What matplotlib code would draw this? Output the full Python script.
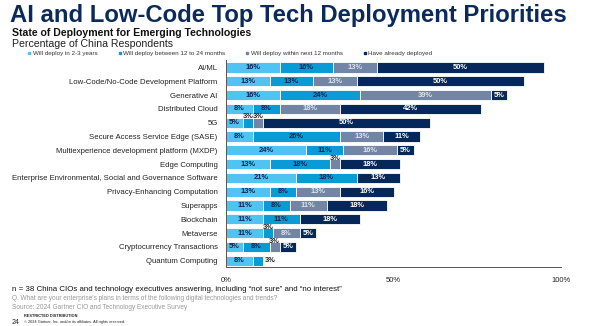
#!/usr/bin/env python

'''
stacked bar chart: state of deployment for emerging technologies (China)
'''

import numpy
import matplotlib
matplotlib.use('Agg')
import matplotlib.pyplot as plt
from matplotlib.lines import Line2D

plt.rcParams['font.family'] = ['Liberation Sans', 'DejaVu Sans']

TECHNOLOGIES = [
    'AI/ML',
    'Low-Code/No-Code Development Platform',
    'Generative AI',
    'Distributed Cloud',
    '5G',
    'Secure Access Service Edge (SASE)',
    'Multiexperience development platform (MXDP)',
    'Edge Computing',
    'Enterprise Environmental, Social and Governance Software',
    'Privacy-Enhancing Computation',
    'Superapps',
    'Blockchain',
    'Metaverse',
    'Cryptocurrency Transactions',
    'Quantum Computing',
]
SERIES = [
    'Will deploy in 2-3 years',
    'Will deploy between 12 to 24 months',
    'Will deploy within next 12 months',
    'Have already deployed',
]
IN_2_3_YEARS = [16, 13, 16, 8, 5, 8, 24, 13, 21, 13, 11, 11, 11, 5, 8]
IN_12_24_MONTHS = [16, 13, 24, 8, 3, 26, 11, 18, 18, 8, 8, 11, 3, 8, 3]
IN_NEXT_12_MONTHS = [13, 13, 39, 18, 3, 13, 16, 3, 0, 13, 11, 0, 8, 3, 0]
ALREADY_DEPLOYED = [50, 50, 5, 42, 50, 11, 5, 18, 13, 16, 18, 18, 5, 5, 0]
X_TICKS = [0, 50, 100]

COLORS = ['#4fc3f1', '#0a9ad6', '#7385a4', '#06275a']
TEXT_COLORS = ['#0b2350', '#0b2350', '#dde3ec', 'white']
NAVY = '#0b2a5b'

fig = plt.figure(figsize=(6, 3.26), dpi=100)
ax = fig.add_axes([0.3767, 0.181, 0.5583, 0.635])

values = numpy.array([IN_2_3_YEARS, IN_12_24_MONTHS,
                      IN_NEXT_12_MONTHS, ALREADY_DEPLOYED], dtype=float)
ypos = numpy.arange(len(TECHNOLOGIES))
left = numpy.zeros(len(TECHNOLOGIES))

for k, row in enumerate(values):
    ax.barh(ypos, row, left=left, height=0.74, color=COLORS[k],
            edgecolor='white', linewidth=0.6)
    for i, v in enumerate(row):
        if v <= 0:
            continue
        label = '%d%%' % v
        if v >= 5:
            ax.text(left[i] + v / 2, i, label, ha='center', va='center',
                    fontsize=5.4, fontweight='bold', color=TEXT_COLORS[k])
        elif i == len(TECHNOLOGIES) - 1:
            # last segment of the bar, put the label to the right
            ax.text(left[i] + v + 0.6, i, label, ha='left', va='center',
                    fontsize=5.4, fontweight='bold', color='#222222')
        else:
            ax.text(left[i] + v / 2, i - 0.42, label, ha='center',
                    va='center', fontsize=5.4, fontweight='bold',
                    color='#222222')
    left += row

ax.set_xlim(0, 100)
ax.set_ylim(14.45, -0.55)
ax.set_yticks(ypos)
ax.set_yticklabels(TECHNOLOGIES, fontsize=5.6, color='#222222')
ax.set_xticks(X_TICKS)
ax.set_xticklabels(['%d%%' % t for t in X_TICKS], fontsize=5.5,
                   color='#222222')
ax.tick_params(length=0, pad=6)
ax.tick_params(axis='x', pad=7)
for side in ('top', 'right'):
    ax.spines[side].set_visible(False)
for side in ('left', 'bottom'):
    ax.spines[side].set_color('#555555')
    ax.spines[side].set_linewidth(0.7)

handles = [Line2D([], [], linestyle='none', marker='s', markersize=1.8,
                  markerfacecolor=c, markeredgecolor=c) for c in COLORS]
fig.legend(handles, SERIES, loc='center left', bbox_to_anchor=(0.037, 0.837),
           ncol=4, frameon=False, fontsize=4.5, handlelength=0.5,
           handletextpad=0.3, columnspacing=3.3, labelcolor='#333333')

fig.text(0.016, 0.988, 'AI and Low-Code Top Tech Deployment Priorities',
         fontsize=17.2, fontweight='bold', color=NAVY, va='top')
fig.text(0.02, 0.9, 'State of Deployment for Emerging Technologies',
         fontsize=7.6, fontweight='bold', color='#111111', va='center')
fig.text(0.02, 0.866, 'Percentage of China Respondents',
         fontsize=7.6, color='#222222', va='center')

fig.text(0.02, 0.112,
         'n = 38 China CIOs and technology executives answering, '
         'including \u201cnot sure\u201d and \u201cno interest\u201d',
         fontsize=5.7, color='#111111', va='center')
fig.text(0.02, 0.083,
         'Q. What are your enterprise\u2019s plans in terms of the following '
         'digital technologies and trends?',
         fontsize=4.7, color='#999999', va='center')
fig.text(0.02, 0.057, 'Source: 2024 Gartner CIO and Technology Executive Survey',
         fontsize=4.7, color='#999999', va='center')
fig.text(0.04, 0.031, 'RESTRICTED DISTRIBUTION', fontsize=2.8,
         fontweight='bold', color='#222222', va='center')
fig.text(0.02, 0.012, '24', fontsize=5, color='#222222', va='center')
fig.text(0.04, 0.012,
         '\u00a9 2024 Gartner, Inc. and/or its affiliates. All rights reserved.',
         fontsize=2.8, color='#222222', va='center')

fig.savefig('out.png', dpi=100)
plt.close(fig)
